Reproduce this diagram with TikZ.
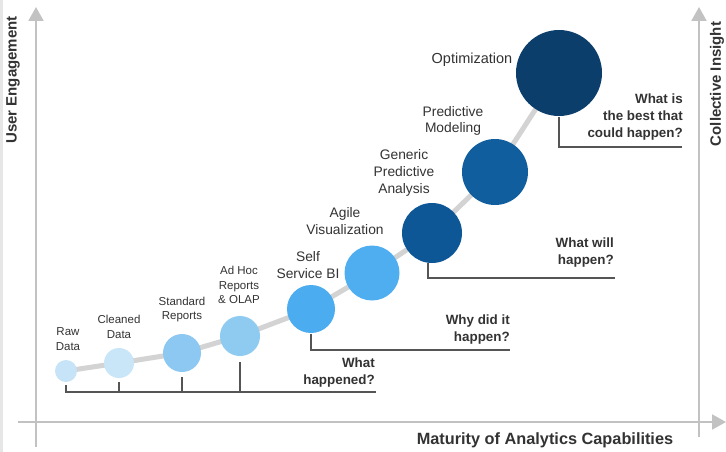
\documentclass[tikz,border=0pt]{standalone}
\usepackage{fontspec}
\setmainfont{Liberation Sans}
\usetikzlibrary{arrows.meta,calc,backgrounds}

\definecolor{axisgray}{HTML}{C2C2C2}
\definecolor{framegray}{HTML}{E6E6E6}
\definecolor{trailgray}{HTML}{D3D3D3}
\definecolor{bracketgray}{HTML}{555555}
\definecolor{labeltext}{HTML}{333333}
\definecolor{cRaw}{HTML}{C6E3F8}
\definecolor{cClean}{HTML}{C9E5F8}
\definecolor{cStd}{HTML}{8CC8F1}
\definecolor{cAdhoc}{HTML}{8FCAF1}
\definecolor{cSelf}{HTML}{4BACEF}
\definecolor{cAgile}{HTML}{4EAEF0}
\definecolor{cGen}{HTML}{0E5797}
\definecolor{cPred}{HTML}{115E9E}
\definecolor{cOpt}{HTML}{0C3E6C}

\begin{document}
\begin{tikzpicture}[x=1pt,y=-1pt,
  axisline/.style={draw=axisgray,line width=2pt,-{Triangle[length=14pt,width=15pt]}},
  bubble/.style={circle,inner sep=0pt,minimum size=#1},
  trail/.style={draw=trailgray,line width=5pt,line join=round},
  bracket/.style={draw=bracketgray,line width=1.4pt},
  smalllabel/.style={text=labeltext,align=center,inner sep=0pt,font=\fontsize{11.5}{14.5}\selectfont},
  biglabel/.style={text=labeltext,align=center,inner sep=0pt,font=\fontsize{13.8}{16.8}\selectfont},
  question/.style={text=labeltext,align=right,inner sep=0pt,anchor=east,font=\bfseries\fontsize{13.4}{17}\selectfont},
  axislabel/.style={text=labeltext,inner sep=0pt,font=\bfseries\fontsize{15}{18}\selectfont}]
\useasboundingbox (0,0) rectangle (726,452);

% axes
\coordinate (leftbot) at (36,447);
\coordinate (lefttop) at (36,7);
\coordinate (hstart) at (18,422);
\coordinate (hend) at (726,422);
\coordinate (rightbot) at (699,437);
\coordinate (righttop) at (699,7);
\draw[axisline] (leftbot) -- (lefttop);
\draw[axisline] (rightbot) -- (righttop);
\draw[axisline] (hstart) -- (hend);

% capability bubbles
\node[bubble=22pt,fill=cRaw]   (raw)   at (66,371) {};
\node[bubble=30pt,fill=cClean] (clean) at (119,363) {};
\node[bubble=38pt,fill=cStd]   (std)   at (182,353) {};
\node[bubble=40pt,fill=cAdhoc] (adhoc) at (240,336) {};
\node[bubble=48pt,fill=cSelf]  (self)  at (311,309) {};
\node[bubble=55pt,fill=cAgile] (agile) at (372,273) {};
\node[bubble=60pt,fill=cGen]   (gen)   at (432,233) {};
\node[bubble=66pt,fill=cPred]  (pred)  at (495,172) {};
\node[bubble=86pt,fill=cOpt]   (opt)   at (559,73) {};

% path through the bubbles, behind them
\begin{scope}[on background layer]
  \fill[white] (0,0) rectangle (726,452);
  \fill[framegray] (0,0) rectangle (3,452);
  \draw[trail] (raw.center) -- (clean.center) -- (std.center) -- (adhoc.center)
    -- (self.center) -- (agile.center) -- (gen.center) -- (pred.center) -- (opt.center);
\end{scope}

% bubble labels
\node[smalllabel] (lraw)   at (68,339)   {Raw\\Data};
\node[smalllabel] (lclean) at (119,327)  {Cleaned\\Data};
\node[smalllabel] (lstd)   at (182,309.5){Standard\\Reports};
\node[smalllabel] (ladhoc) at (239,285)  {Ad Hoc\\Reports\\\& OLAP};
\node[biglabel]   (lself)  at (308,265)  {Self\\Service BI};
\node[biglabel]   (lagile) at (345,221)  {Agile\\Visualization};
\node[biglabel]   (lgen)   at (404,173)  {Generic\\Predictive\\Analysis};
\node[biglabel]   (lpred)  at (453,121)  {Predictive\\Modeling};
\node[biglabel,font=\fontsize{14.5}{17}\selectfont] (lopt) at (472,60) {Optimization};

% brackets
\coordinate (baseend) at (376,392);
\draw[bracket] ($(raw.south)+(0,3)$) -- (raw.south |- baseend) -- (baseend);
\draw[bracket] ($(clean.south)+(0,4)$) -- (clean.south |- baseend);
\draw[bracket] ($(std.south)+(0,5)$) -- (std.south |- baseend);
\draw[bracket] ($(adhoc.south)+(0,6)$) -- (adhoc.south |- baseend);

\coordinate (selfend) at (510,350);
\draw[bracket] ($(self.south)+(0,1)$) -- (self.south |- selfend) -- (selfend);

\coordinate (genend) at (615,278);
\coordinate (gentick) at ($(gen.south)+(-4,0)$);
\draw[bracket] (gentick) -- (gentick |- genend) -- (genend);

\coordinate (optend) at (682,147);
\draw[bracket] ($(opt.south)+(0,1)$) -- (opt.south |- optend) -- (optend);

% questions
\node[question] (q1) at (375,373) {What\\happened?};
\node[question] (q2) at (510,330) {Why did it\\happen?};
\node[question] (q3) at (614,252.5) {What will\\happen?};
\node[question] (q4) at (683,117) {What is\\the best that\\could happen?};

% axis titles
\node[axislabel,rotate=90] (ue) at (13,80) {User Engagement};
\node[axislabel,rotate=90] (ci) at (717,84) {Collective Insight};
\node[axislabel,font=\bfseries\fontsize{16.3}{19}\selectfont] (mat) at (545,440) {Maturity of Analytics Capabilities};
\end{tikzpicture}
\end{document}
